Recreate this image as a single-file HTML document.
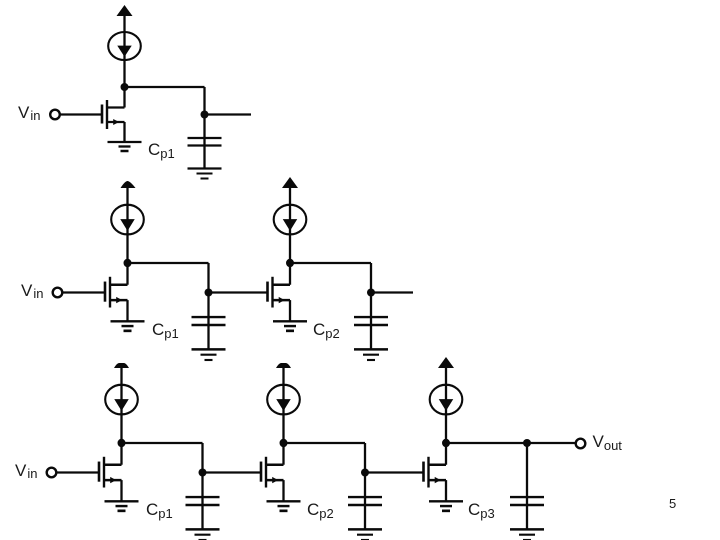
<!DOCTYPE html>
<html>
<head>
<meta charset="utf-8">
<style>
html,body{margin:0;padding:0;background:#fff;width:720px;height:540px;overflow:hidden}
svg{display:block}
text{font-family:"Liberation Sans",sans-serif;fill:#1a1a1a;font-size:17px}
.s{font-size:13px}
</style>
</head>
<body>
<svg width="720" height="540" viewBox="0 0 720 540" xmlns="http://www.w3.org/2000/svg">
<defs>
  <g id="stage" fill="none" stroke="#0a0a0a" stroke-width="2.3">
    <line x1="0" y1="-71" x2="0" y2="20.5"/>
    <ellipse cx="0" cy="-41" rx="16.3" ry="14" stroke-width="2.1"/>
    <polygon points="-6.5,-41 6.5,-41 0,-31" fill="#0a0a0a" stroke="#0a0a0a" stroke-width="0.8"/>
    <circle cx="0" cy="0" r="4" fill="#0a0a0a" stroke="none"/>
    <line x1="0" y1="20.5" x2="-18" y2="20.5"/>
    <line x1="-17.5" y1="13" x2="-17.5" y2="42" stroke-width="2.4"/>
    <line x1="-22.5" y1="17.5" x2="-22.5" y2="36.5" stroke-width="2.6"/>
    <line x1="-18" y1="35" x2="0" y2="35"/>
    <line x1="0" y1="35" x2="0" y2="55"/>
    <polygon points="-11,32.5 -6,35 -11,37.5" fill="#0a0a0a" stroke="#0a0a0a" stroke-width="0.6"/>
    <line x1="-17" y1="55" x2="17" y2="55"/>
    <line x1="-6" y1="59.5" x2="6" y2="59.5"/>
    <line x1="-4" y1="64" x2="4" y2="64" stroke-width="2.5"/>
  </g>
  <g id="cap" fill="none" stroke="#0a0a0a" stroke-width="2.3">
    <line x1="0" y1="0" x2="0" y2="81"/>
    <line x1="-17" y1="51" x2="17" y2="51"/>
    <line x1="-17" y1="58.5" x2="17" y2="58.5"/>
    <line x1="-17" y1="81.5" x2="17" y2="81.5"/>
    <line x1="-8" y1="86.5" x2="8" y2="86.5" stroke-width="2"/>
    <line x1="-4" y1="91.5" x2="4" y2="91.5" stroke-width="2"/>
  </g>
</defs>

<!-- Row 1 -->
<use href="#stage" transform="translate(124.5,87)"/>
<use href="#cap" transform="translate(204.5,87)"/>
<polygon points="124.5,5 116.5,16 132.5,16" fill="#0a0a0a"/>
<circle cx="204.5" cy="114.5" r="4" fill="#0a0a0a"/>
<g fill="none" stroke="#0a0a0a" stroke-width="2.3">
  <line x1="124.5" y1="87" x2="204.5" y2="87"/>
  <line x1="204.5" y1="114.5" x2="251" y2="114.5"/>
  <line x1="60" y1="114.5" x2="102" y2="114.5"/>
  <circle cx="55" cy="114.5" r="4.8" stroke-width="2.4" fill="#fff"/>
</g>

<!-- Row 2 -->
<use href="#stage" transform="translate(127.5,263) scale(1,1.06)"/>
<use href="#cap" transform="translate(208.5,263) scale(1,1.06)"/>
<use href="#stage" transform="translate(290,263) scale(1,1.06)"/>
<use href="#cap" transform="translate(371,263) scale(1,1.06)"/>
<path d="M120.5,188 Q125,181 127.5,181 Q130,181 135.5,188 Z" fill="#0a0a0a"/>
<polygon points="290,177 282,188 298,188" fill="#0a0a0a"/>
<circle cx="208.5" cy="292.5" r="4" fill="#0a0a0a"/>
<circle cx="371" cy="292.5" r="4" fill="#0a0a0a"/>
<g fill="none" stroke="#0a0a0a" stroke-width="2.3">
  <line x1="127.5" y1="263" x2="208.5" y2="263"/>
  <line x1="290" y1="263" x2="371" y2="263"/>
  <line x1="208.5" y1="292.5" x2="267" y2="292.5"/>
  <line x1="371" y1="292.5" x2="413" y2="292.5"/>
  <line x1="62" y1="292.5" x2="105" y2="292.5"/>
  <circle cx="57.5" cy="292.5" r="4.8" stroke-width="2.4" fill="#fff"/>
</g>

<!-- Row 3 -->
<use href="#stage" transform="translate(121.5,443) scale(1,1.06)"/>
<use href="#cap" transform="translate(202.5,443) scale(1,1.06)"/>
<use href="#stage" transform="translate(283.5,443) scale(1,1.06)"/>
<use href="#cap" transform="translate(365,443) scale(1,1.06)"/>
<use href="#stage" transform="translate(446,443) scale(1,1.06)"/>
<use href="#cap" transform="translate(527,443) scale(1,1.06)"/>
<path d="M114,368 Q117,363 119,363 L124,363 Q126,363 129,368 Z" fill="#0a0a0a"/>
<path d="M276,368 Q279,363 281,363 L286,363 Q288,363 291,368 Z" fill="#0a0a0a"/>
<polygon points="446,357 438,368 454,368" fill="#0a0a0a"/>
<circle cx="202.5" cy="472.5" r="4" fill="#0a0a0a"/>
<circle cx="365" cy="472.5" r="4" fill="#0a0a0a"/>
<g fill="none" stroke="#0a0a0a" stroke-width="2.3">
  <line x1="121.5" y1="443" x2="202.5" y2="443"/>
  <line x1="283.5" y1="443" x2="365" y2="443"/>
  <line x1="446" y1="443" x2="576" y2="443"/>
  <line x1="202.5" y1="472.5" x2="261" y2="472.5"/>
  <line x1="365" y1="472.5" x2="423.5" y2="472.5"/>
  <line x1="56" y1="472.5" x2="99" y2="472.5"/>
  <circle cx="51.5" cy="472.5" r="4.8" stroke-width="2.4" fill="#fff"/>
  <circle cx="580.5" cy="443.5" r="4.8" stroke-width="2.4" fill="#fff"/>
</g>
<circle cx="527" cy="443" r="4" fill="#0a0a0a"/>

<!-- Labels -->
<text x="18" y="118">V<tspan class="s" dx="1" dy="2">in</tspan></text>
<text x="148" y="155">C<tspan class="s" dy="3">p1</tspan></text>
<text x="21" y="296">V<tspan class="s" dx="1" dy="2">in</tspan></text>
<text x="152" y="335">C<tspan class="s" dy="3">p1</tspan></text>
<text x="313" y="335">C<tspan class="s" dy="3">p2</tspan></text>
<text x="15" y="476">V<tspan class="s" dx="1" dy="2">in</tspan></text>
<text x="146" y="515">C<tspan class="s" dy="3">p1</tspan></text>
<text x="307" y="515">C<tspan class="s" dy="3">p2</tspan></text>
<text x="468" y="515">C<tspan class="s" dy="3">p3</tspan></text>
<text x="592.5" y="447">V<tspan class="s" dy="3">out</tspan></text>
<text x="669" y="508" style="font-size:13px">5</text>
</svg>
</body>
</html>
